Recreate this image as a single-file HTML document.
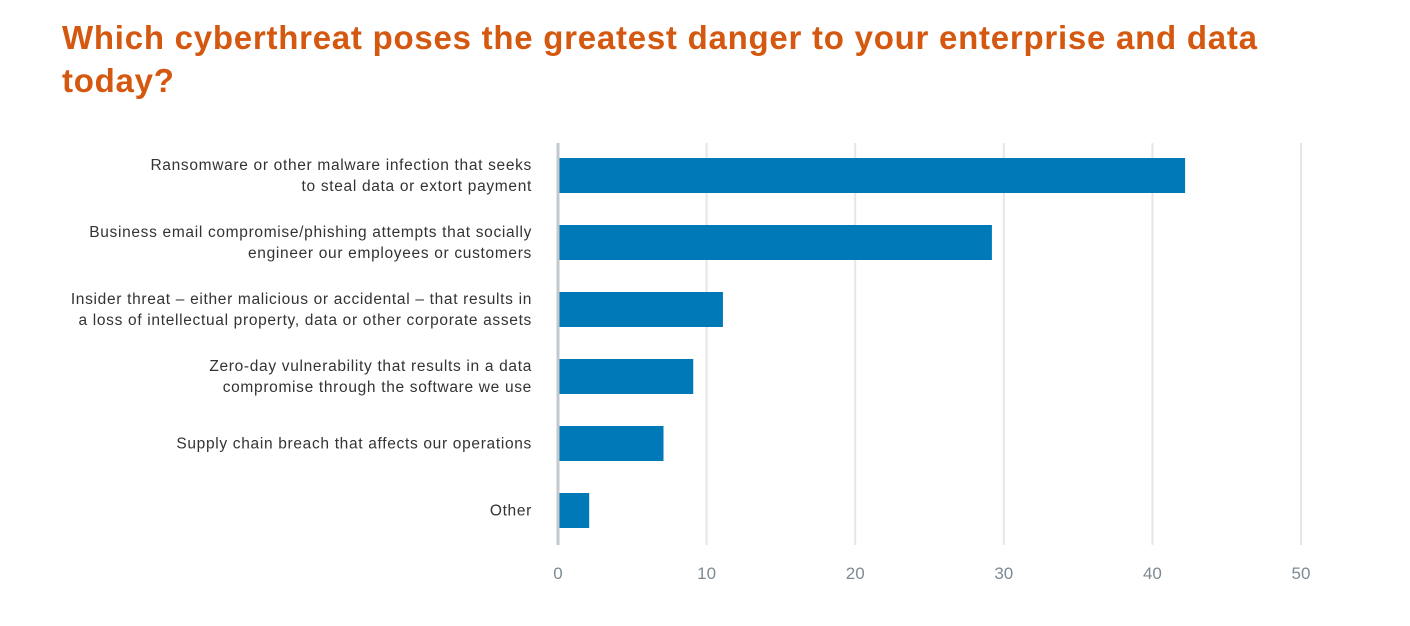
<!DOCTYPE html>
<html><head><meta charset="utf-8"><style>
body{margin:0;background:#fff;width:1410px;height:626px;overflow:hidden;font-family:"Liberation Sans",sans-serif}
#title{position:absolute;left:62px;top:16px;font-size:33px;letter-spacing:0.75px;font-weight:bold;color:#d4580f;line-height:43px;width:1340px;margin:0}
svg{position:absolute;left:0;top:0}
</style></head><body>
<h1 id="title">Which cyberthreat poses the greatest danger to your enterprise and data<br>today?</h1>
<svg id="chart" width="1410" height="626"></svg>
<script>
const categories=[["Ransomware or other malware infection that seeks","to steal data or extort payment"],["Business email compromise/phishing attempts that socially","engineer our employees or customers"],["Insider threat – either malicious or accidental – that results in","a loss of intellectual property, data or other corporate assets"],["Zero-day vulnerability that results in a data","compromise through the software we use"],["Supply chain breach that affects our operations"],["Other"]];
const values=[42.2,29.2,11.1,9.1,7.1,2.1];
const ticks=[0,10,20,30,40,50];
const NS="http://www.w3.org/2000/svg";
const svg=document.getElementById('chart');
const x0=558,x1=1301,top0=143,bottom=545,step=67,bh=35,firstY=158;
const xs=v=>x0+(v-0)/(50-0)*(x1-x0);
function mk(t,a){const e=document.createElementNS(NS,t);for(const k in a)e.setAttribute(k,a[k]);svg.appendChild(e);return e;}
ticks.forEach((t,i)=>{
 if(t>0){const g=mk('line',{x1:xs(t),x2:xs(t),y1:top0,y2:bottom,stroke:'#e4e6e8','stroke-width':2});
 
 }
 const l=mk('text',{x:xs(t),y:579,'text-anchor':'middle','font-size':17,fill:'#7d8a92'});
 l.textContent=t;
 
 
});
values.forEach((v,i)=>{
 const y=firstY+i*step;
 const r=mk('rect',{x:x0+1,y:y,width:xs(v)-x0-1,height:bh,fill:'#0079b8'});
 
 
 const lines=categories[i];
 const cy=y+bh/2;
 lines.forEach((s,j)=>{
  const ty=cy+5+(j-(lines.length-1)/2)*21;
  const t=mk('text',{x:532,y:ty,'text-anchor':'end','font-size':15.5,'letter-spacing':0.68,fill:'#333'});
  t.textContent=s;
  
  
 });
});
const ax=mk('line',{x1:x0,x2:x0,y1:top0,y2:bottom,stroke:'#c3c8cc','stroke-width':3});


</script>
</body></html>
